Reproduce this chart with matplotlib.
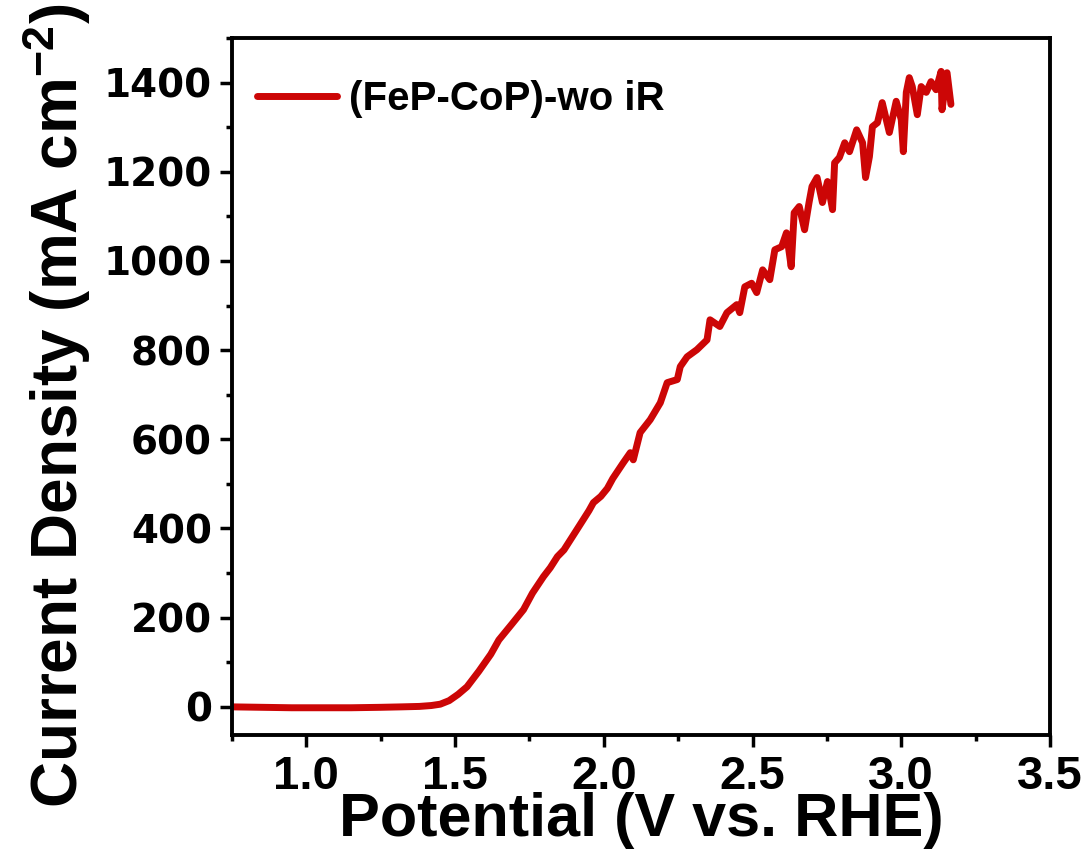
import matplotlib.pyplot as plt
from matplotlib.ticker import MultipleLocator

# Potential (V vs. RHE) and current density (mA cm^-2)
potential = [0.75, 0.85, 0.95, 1.05, 1.15, 1.25, 1.32, 1.38, 1.42, 1.45,
             1.48, 1.51, 1.54, 1.58, 1.62, 1.647, 1.69, 1.73, 1.76, 1.797,
             1.82, 1.844, 1.866, 1.888, 1.91, 1.931, 1.95, 1.965, 1.99, 2.012,
             2.03, 2.05, 2.065, 2.089, 2.099, 2.122, 2.156, 2.19, 2.213, 2.247,
             2.257, 2.28, 2.313, 2.347, 2.357, 2.39, 2.414, 2.447, 2.457, 2.474,
             2.497, 2.514, 2.534, 2.558, 2.575, 2.598, 2.614, 2.63, 2.64, 2.657,
             2.675, 2.69, 2.70, 2.717, 2.735, 2.752, 2.769, 2.776, 2.792, 2.81,
             2.826, 2.85, 2.87, 2.88, 2.893, 2.903, 2.92, 2.933, 2.936, 2.96,
             2.983, 3.0, 3.007, 3.017, 3.027, 3.037, 3.054, 3.067, 3.084, 3.1,
             3.117, 3.134, 3.137, 3.154, 3.167]
current = [0, -1, -2, -2, -2, -1, 0, 1, 3, 6,
           14, 28, 45, 80, 118, 150, 185, 218, 255, 292,
           312, 337, 352, 375, 398, 420, 440, 458, 472, 490,
           512, 532, 547, 570, 554, 615, 644, 682, 727, 734,
           763, 785, 801, 823, 868, 853, 884, 902, 884, 942,
           950, 929, 980, 958, 1025, 1032, 1063, 987, 1108, 1122,
           1070, 1131, 1167, 1187, 1131, 1178, 1115, 1220, 1232, 1265,
           1245, 1294, 1265, 1187, 1234, 1301, 1310, 1346, 1355, 1288,
           1358, 1317, 1245, 1378, 1411, 1391, 1328, 1391, 1378, 1402,
           1384, 1425, 1339, 1422, 1351]
series_label = '(FeP-CoP)-wo iR'

plt.rcParams['font.family'] = 'Liberation Sans'
plt.rcParams['font.weight'] = 'bold'
plt.rcParams['mathtext.fontset'] = 'custom'
plt.rcParams['mathtext.rm'] = 'Liberation Sans:bold'
plt.rcParams['mathtext.bf'] = 'Liberation Sans:bold'
plt.rcParams['mathtext.default'] = 'bf'

fig = plt.figure(figsize=(10.92, 8.55), dpi=100)
ax = fig.add_axes([0.2125, 0.1404, 0.749, 0.8152])

ax.plot(potential, current, color='#cc0606', linewidth=5,
        solid_joinstyle='round', solid_capstyle='round', label=series_label)

ax.set_xlim(0.75, 3.5)
ax.set_ylim(-63, 1500)
ax.xaxis.set_major_locator(MultipleLocator(0.5))
ax.xaxis.set_minor_locator(MultipleLocator(0.25))
ax.yaxis.set_major_locator(MultipleLocator(200))
ax.yaxis.set_minor_locator(MultipleLocator(100))

for s in ax.spines.values():
    s.set_linewidth(2.8)
ax.tick_params(which='major', direction='out', length=8.5, width=2.5,
               top=False, right=False)
ax.tick_params(which='minor', direction='out', length=4.5, width=2.5,
               top=False, right=False)
ax.tick_params(axis='x', labelsize=34, pad=6)
ax.tick_params(axis='y', labelsize=28, pad=6)
for t in ax.get_yticklabels():
    t.set_family('DejaVu Sans')
    t.set_weight('bold')

ax.set_xlabel('Potential (V vs. RHE)', fontsize=44, fontweight='bold', labelpad=-5)
ax.set_ylabel('Current Density (mA cm$^{-2}$)', fontsize=46,
              fontweight='bold', labelpad=8)
ax.yaxis.label.set_y(0.472)

ax.legend(loc='upper left', bbox_to_anchor=(0.03, 0.94), frameon=False,
          fontsize=29, handlelength=2.0, handletextpad=0.3,
          borderpad=0, borderaxespad=0)

plt.savefig('out.png', dpi=100)
